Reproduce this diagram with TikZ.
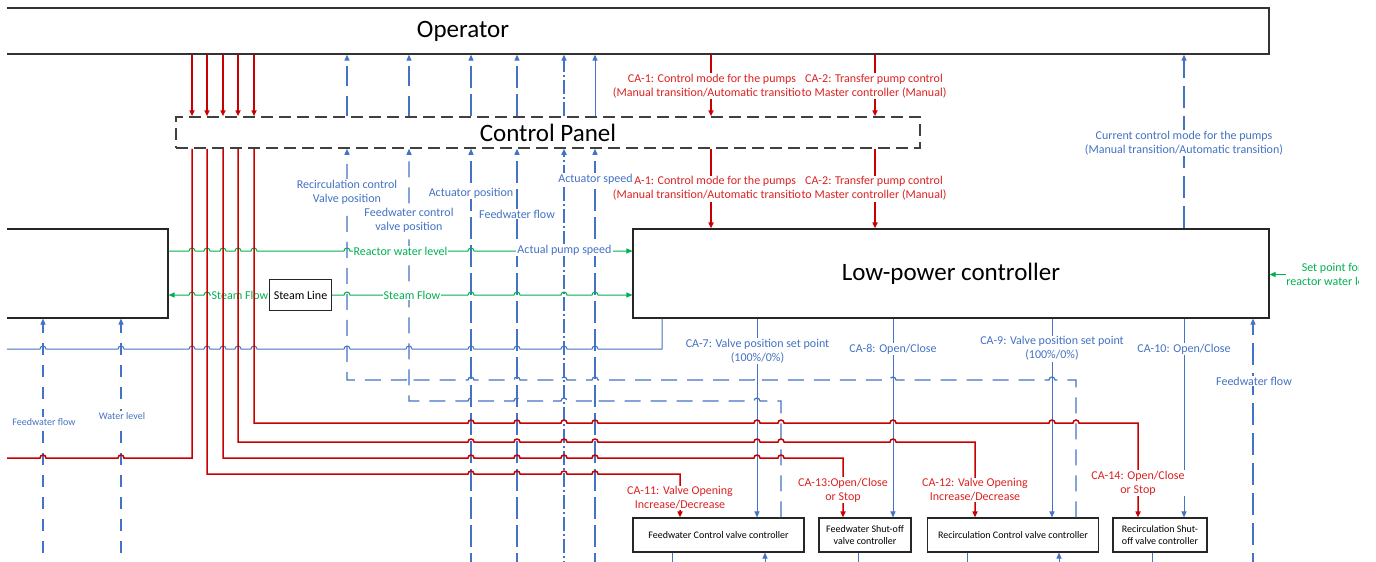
\documentclass[tikz,border=0pt]{standalone}
\usepackage{fontspec}
\setmainfont{Carlito}
\usetikzlibrary{arrows.meta}
\definecolor{cblue}{RGB}{68,114,196}
\definecolor{cred}{RGB}{200,0,0}
\definecolor{credt}{RGB}{220,35,35}
\definecolor{cgreen}{RGB}{0,176,80}
\tikzset{
  tip/.style={-{Triangle[length=6pt,width=5pt]}},
  box/.style={draw=black!85, line width=1.1pt, fill=white, inner sep=0pt, align=center},
  title/.style={font=\fontsize{25}{30}\selectfont},
  small/.style={font=\fontsize{10}{12.5}\selectfont},
  rd/.style={cred, line width=1.5pt},
  bl/.style={cblue, line width=1pt},
  bdH/.style={cblue, line width=1.2pt, dash pattern=on 16pt off 10pt},
  bdV/.style={cblue, line width=1.1pt, dash pattern=on 20pt off 10pt},
  bdL/.style={cblue, line width=1.2pt, dash pattern=on 22pt off 8pt},
  bdA/.style={cblue, line width=1.1pt, dash pattern=on 22pt off 6pt},
  bdD/.style={cblue, line width=1.5pt, dash pattern=on 14pt off 3pt on 2pt off 3pt},
  bdS/.style={cblue, line width=1.1pt, dash pattern=on 12pt off 10pt},
  gr/.style={cgreen, line width=1pt},
  lab/.style={fill=white, inner sep=1pt, align=center, font=\fontsize{12}{14}\selectfont},
  blab/.style={lab, text=cblue},
  rlab/.style={lab, text=credt},
  glab/.style={lab, text=cgreen},
  slab/.style={lab, text=cblue, font=\fontsize{10}{12}\selectfont},
}
\begin{document}
\begin{tikzpicture}[x=1pt,y=-1pt]
\useasboundingbox[fill=white] (0,0) rectangle (1376,562);
\clip (7,0) rectangle (1358,562);

% ---------- boxes ----------
\node[box, draw=black!80, line width=1.3pt, minimum width=1612pt, minimum height=46pt, title] (op) at (463,31) {Operator};
\node[box, draw=black!75, line width=1.5pt, dash pattern=on 12pt off 6pt, minimum width=744pt, minimum height=31pt, title] (cp) at (548,132.5) {Control Panel};
\node[box, minimum width=320pt, minimum height=89pt] (lb) at (8,273.5) {};
\node[box, minimum width=636pt, minimum height=89pt, title] (lpc) at (951,273.5) {Low-power controller};
\node[box, minimum width=62pt, minimum height=31pt, font=\fontsize{12}{14}\selectfont] (steam) at (300.5,295) {Steam Line};
\node[box, minimum width=171pt, minimum height=34pt, small] (fwc) at (718.5,535) {Feedwater Control valve controller};
\node[box, minimum width=92pt, minimum height=34pt, small] (fws) at (865,535) {Feedwater Shut-off\\valve controller};
\node[box, minimum width=171pt, minimum height=34pt, small] (rcc) at (1013,535) {Recirculation Control valve controller};
\node[box, minimum width=94pt, minimum height=34pt, small] (rcs) at (1160,535) {Recirculation Shut-\\off valve controller};

% free ends
\foreach \x in {43,121,471,517,564,595,672,765,858,967,1059,1152,1253}
  \coordinate (e\x) at (\x,575);
\coordinate (w349) at (-10,349);
\coordinate (w458) at (-10,458);

% ---------- blue lines ----------
\draw[bdV,tip] (cp.north -| 347,0) -- (op.south -| 347,0);
\draw[bdV,tip] (cp.north -| 409,0) -- (op.south -| 409,0);
\draw[bdA,tip] (cp.north -| 471,0) -- (op.south -| 471,0);
\draw[bdA,tip] (cp.north -| 517,0) -- (op.south -| 517,0);
\draw[bdD,tip] (cp.north -| 564,0) -- (op.south -| 564,0);
\draw[bl,tip] (cp.north -| 595,0) -- (op.south -| 595,0);

\draw[bdA,tip] (e471) -- (cp.south -| e471);
\draw[bdA,tip] (e517) -- (cp.south -| e517);
\draw[bdD,tip] (e564) -- (cp.south -| e564);
\draw[bdA,tip] (e595) -- (cp.south -| e595);

\draw[bdH,tip] (rcc.north -| 1076,0) -- (1076,380)
  foreach \j in {1052,893,757,595,564,517,471,409}{ -- (\j+3,380) arc[start angle=0,end angle=180,radius=3pt] }
  -- (347,380) -- (cp.south -| 347,0);
\draw[bdH,tip] (fwc.north -| 781,0) -- (781,401)
  foreach \j in {757,595,564,517,471}{ -- (\j+3,401) arc[start angle=0,end angle=180,radius=3pt] }
  -- (409,401) -- (cp.south -| 409,0);

\draw[bl] (lpc.south -| 662,0) -- (662,349)
  foreach \j in {595,564,517,471,409,347,254,238,223,207,192,121,43}{ -- (\j+3,349) arc[start angle=0,end angle=180,radius=3pt] }
  -- (w349);

\draw[bl,tip] (lpc.south -| 757,0) -- (fwc.north -| 757,0);
\draw[bl,tip] (lpc.south -| 893,0) -- (fws.north -| 893,0);
\draw[bl,tip] (lpc.south -| 1052,0) -- (rcc.north -| 1052,0);
\draw[bl,tip] (lpc.south -| 1184,0) -- (rcs.north -| 1184,0);
\draw[bdL,tip] (lpc.north -| 1184,0) -- (op.south -| 1184,0);
\draw[bdL,tip] (e1253) -- (lpc.south -| e1253);

\draw[bdS,tip] (e43) -- (lb.south -| e43);
\draw[bdS,tip] (e121) -- (lb.south -| e121);

\draw[bl] (fwc.south -| e672) -- (e672);
\draw[bl,tip] (e765) -- (fwc.south -| e765);
\draw[bl] (fws.south -| e858) -- (e858);
\draw[bl] (rcc.south -| e967) -- (e967);
\draw[bl,tip] (e1059) -- (rcc.south -| e1059);
\draw[bl] (rcs.south -| e1152) -- (e1152);

% ---------- green lines ----------
\draw[gr,tip] (lb.east |- 0,251)
  foreach \j in {192,207,223,238,254,347,471}{ -- (\j-3,251) arc[start angle=180,end angle=0,radius=3pt] }
  -- (lpc.west |- 0,251);
\draw[gr,tip] (steam.west)
  foreach \j in {254,238,223,207,192}{ -- (\j+3,295) arc[start angle=0,end angle=180,radius=3pt] }
  -- (lb.east |- steam.west);
\draw[gr,tip] (steam.east)
  foreach \j in {347,409,471,517,564,595}{ -- (\j-3,295) arc[start angle=180,end angle=0,radius=3pt] }
  -- (lpc.west |- steam.east);
\node[lab, text=cgreen, fill=none, inner sep=0pt] (setpt) at (1332,274.5) {Set point for\\reactor water level};
\draw[gr,tip] (setpt.west) -- (lpc.east |- setpt.west);

% ---------- blue / green labels ----------
\node[blab] (l347) at (347,192.5) {Recirculation control\\Valve position};
\node[blab] (l409) at (409,220.5) {Feedwater control\\valve position};
\node[blab] (l471) at (471,193) {Actuator position};
\node[blab] (l517) at (517,214) {Feedwater flow};
\node[glab] (lrwl) at (400.5,251) {Reactor water level};
\node[blab] (l564) at (564.5,250) {Actual pump speed};
\node[glab] (lsf1) at (240,295) {Steam Flow};
\node[glab] (lsf2) at (412,295) {Steam Flow};
\node[blab] (lca7) at (757.5,351) {CA-7: Valve position set point\\(100\%/0\%)};
\node[blab] (lca8) at (893,349) {CA-8: Open/Close};
\node[blab] (lca9) at (1052,348.5) {CA-9: Valve position set point\\(100\%/0\%)};
\node[blab] (lca10) at (1184,349) {CA-10: Open/Close};
\node[blab] (lcur) at (1184,143) {Current control mode for the pumps\\(Manual transition/Automatic transition)};
\node[blab] (lfwr) at (1254,381) {Feedwater flow};
\node[slab] (lfwl) at (44,422) {Feedwater flow};
\node[slab] (lwl) at (122,416) {Water level};

% ---------- red lines ----------
\foreach \x in {192,207,223,238,254}
  \draw[rd,tip] (op.south -| \x,0) -- (cp.north -| \x,0);
\draw[rd] (cp.south -| 192,0) -- (192,458)
  foreach \j in {121,43}{ -- (\j+3,458) arc[start angle=0,end angle=180,radius=3pt] }
  -- (w458);
\draw[rd,tip] (cp.south -| 207,0) -- (207,474)
  foreach \j in {471,517,564,595}{ -- (\j-3,474) arc[start angle=180,end angle=0,radius=3pt] }
  -- (680,474) -- (fwc.north -| 680,0);
\draw[rd,tip] (cp.south -| 223,0) -- (223,458)
  foreach \j in {471,517,564,595,757,781}{ -- (\j-3,458) arc[start angle=180,end angle=0,radius=3pt] }
  -- (843,458) -- (fws.north -| 843,0);
\draw[rd,tip] (cp.south -| 238,0) -- (238,442)
  foreach \j in {471,517,564,595,757,781,893}{ -- (\j-3,442) arc[start angle=180,end angle=0,radius=3pt] }
  -- (975,442) -- (rcc.north -| 975,0);
\draw[rd,tip] (cp.south -| 254,0) -- (254,423)
  foreach \j in {471,517,564,595,757,781,893,1052,1076}{ -- (\j-3,423) arc[start angle=180,end angle=0,radius=3pt] }
  -- (1138,423) -- (rcs.north -| 1138,0);

\draw[rd,tip] (op.south -| 711,0) -- (cp.north -| 711,0);
\draw[rd,tip] (op.south -| 875,0) -- (cp.north -| 875,0);
\draw[rd,tip] (cp.south -| 711,0) -- (lpc.north -| 711,0);
\draw[rd,tip] (cp.south -| 875,0) -- (lpc.north -| 875,0);

% ---------- red labels ----------
\node[rlab] (lca1a) at (712,86) {CA-1: Control mode for the pumps\\(Manual transition/Automatic transition)};
\node[rlab] (lca2a) at (874,86) {CA-2: Transfer pump control\\to Master controller (Manual)};
\node[rlab] (lca1b) at (712,188.5) {CA-1: Control mode for the pumps\\(Manual transition/Automatic transition)};
\node[rlab] (lca2b) at (874,188.5) {CA-2: Transfer pump control\\to Master controller (Manual)};
\node[rlab] (lca11) at (680,498) {CA-11: Valve Opening\\Increase/Decrease};
\node[rlab] (lca13) at (843,490) {CA-13:Open/Close\\or Stop};
\node[rlab] (lca12) at (975,490) {CA-12: Valve Opening\\Increase/Decrease};
\node[rlab] (lca14) at (1138,483) {CA-14: Open/Close\\or Stop};

\node[blab] (l595) at (595.5,179) {Actuator speed};
\end{tikzpicture}
\end{document}
